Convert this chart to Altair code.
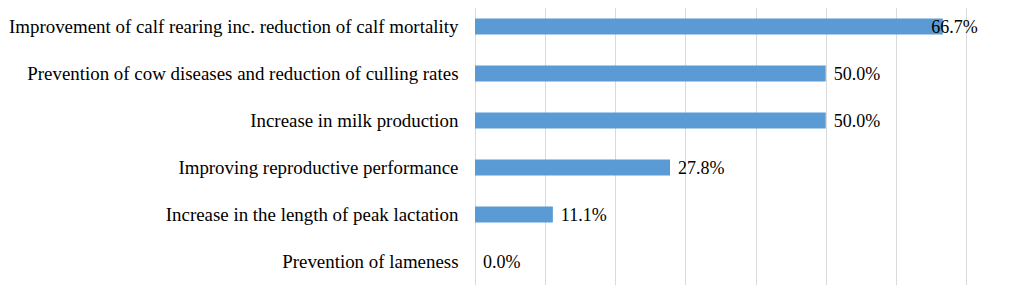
import altair as alt
import pandas as pd

categories = [
    "Improvement of calf rearing inc. reduction of calf mortality",
    "Prevention of cow diseases and reduction of culling rates",
    "Increase in milk production",
    "Improving reproductive performance",
    "Increase in the length of peak lactation",
    "Prevention of lameness",
]
values = [66.7, 50.0, 50.0, 27.8, 11.1, 0.0]

df = pd.DataFrame({"category": categories, "value": values})

FONT = "'Liberation Serif', 'Times New Roman', Times, serif"

y_enc = alt.Y(
    "category:N",
    sort=categories,
    title=None,
    scale=alt.Scale(paddingInner=0.66, paddingOuter=0.33),
    axis=alt.Axis(
        labelFont=FONT,
        labelFontSize=18.9,
        labelColor="black",
        labelPadding=17,
        ticks=False,
        domain=False,
        grid=False,
        labelLimit=1000,
    ),
)
x_scale = alt.Scale(domain=[0, 70], nice=False)

bars = alt.Chart(df).mark_bar(color="#5B9BD5").encode(
    x=alt.X(
        "value:Q",
        scale=x_scale,
        title=None,
        axis=alt.Axis(
            values=[0, 10, 20, 30, 40, 50, 60, 70],
            grid=True,
            gridColor="#d9d9d9",
            gridWidth=1,
            labels=False,
            ticks=False,
            domain=False,
        ),
    ),
    y=y_enc,
)

text = (
    alt.Chart(df)
    .transform_calculate(lx="min(datum.value, 63.9)", lbl="format(datum.value, '.1f') + '%'")
    .mark_text(align="left", baseline="middle", dx=8, dy=1, font=FONT, fontSize=18, color="black")
    .encode(
        x=alt.X("lx:Q", scale=x_scale),
        y=alt.Y("category:N", sort=categories),
        text="lbl:N",
    )
)

chart = (
    alt.layer(bars, text)
    .properties(width=491, height=282, padding={"left": 0, "top": -5, "right": 0, "bottom": 0})
    .configure_view(stroke=None)
    .configure(background="white")
)

chart.save("out.html", embed_options={"renderer": "svg", "actions": False})
